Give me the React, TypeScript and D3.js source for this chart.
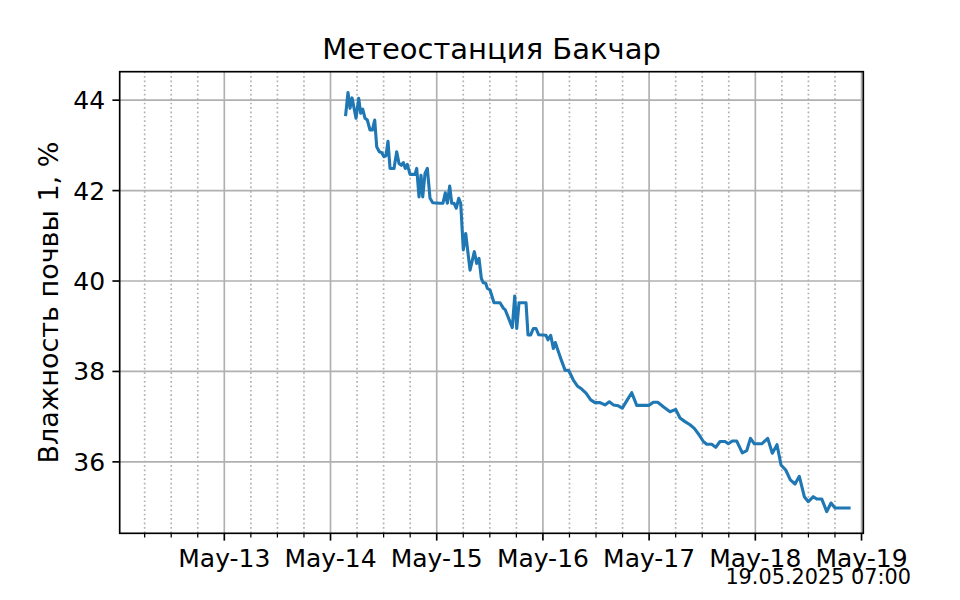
import React from "react";
import * as d3 from "d3";

// Hours since 2025-05-14 00:00 (UTC) and soil moisture values
const hours: number[] = [
  3.43, 3.95, 4.41, 4.86, 5.31, 5.76, 6.37, 6.82, 7.28, 7.8, 8.32, 8.93, 9.45, 9.99,
  10.44, 11.03, 11.57, 12.09, 12.54, 12.99, 13.45, 14.35, 14.96, 15.48, 16.0, 16.45,
  16.9, 17.36, 17.97, 19.1, 19.48, 20.0, 20.45, 20.84, 21.36, 21.88, 22.49, 23.1,
  24.75, 25.4, 25.94, 26.4, 26.94, 27.39, 27.91, 28.43, 28.97, 29.42, 30.01, 30.55,
  31.53, 32.5, 33.04, 33.56, 34.08, 34.53, 35.07, 35.44, 36.05, 36.95, 38.31, 39.05,
  39.5, 41.08, 41.63, 42.08, 42.6, 44.18, 44.63, 45.24, 45.83, 46.44, 47.05, 48.7,
  49.15, 49.76, 50.35, 50.8, 51.25, 52.16, 53.0, 53.83, 54.87, 55.77, 56.77, 57.74,
  58.8, 59.77, 60.9, 62.03, 63.0, 63.91, 65.04, 65.94, 67.07, 68.07, 69.2, 71.98,
  72.95, 73.94, 75.21, 76.72, 78.01, 78.98, 80.11, 81.24, 82.21, 83.28, 84.25, 85.02,
  86.15, 87.05, 88.02, 89.15, 89.9, 90.8, 91.8, 93.06, 94.06, 94.9, 95.78, 97.45,
  98.8, 99.84, 100.9, 101.81, 102.87, 103.91, 104.97, 105.94, 107.07, 107.98, 109.11,
  109.88, 111.0, 112.14, 113.11, 114.01, 117.18,
];
const moisture: number[] = [
  43.68, 44.17, 43.82, 44.05, 43.83, 43.6, 44.04, 43.71, 43.8, 43.6, 43.56, 43.34, 43.34, 43.56,
  42.97, 42.86, 42.84, 42.75, 42.77, 43.09, 42.49, 42.49, 42.86, 42.6, 42.56, 42.62,
  42.49, 42.58, 42.36, 42.36, 42.49, 41.86, 42.34, 41.86, 42.38, 42.49, 41.83, 41.73,
  41.72, 41.72, 41.95, 41.72, 42.1, 41.72, 41.72, 41.61, 41.83, 41.72, 40.69, 41.05,
  40.24, 40.65, 40.39, 40.5, 40.06, 39.96, 39.95, 39.84, 39.8, 39.52, 39.52, 39.4,
  39.36, 38.97, 39.67, 38.95, 39.52, 39.52, 38.81, 38.81, 38.95, 38.95, 38.81, 38.8,
  38.7, 38.8, 38.51, 38.64, 38.51, 38.25, 38.03, 38.02, 37.81, 37.68, 37.61, 37.52,
  37.37, 37.31, 37.31, 37.26, 37.33, 37.26, 37.24, 37.19, 37.37, 37.53, 37.25, 37.25,
  37.32, 37.32, 37.22, 37.11, 37.16, 36.97, 36.89, 36.82, 36.74, 36.6, 36.45, 36.39,
  36.39, 36.32, 36.45, 36.45, 36.4, 36.46, 36.46, 36.2, 36.25, 36.52, 36.4, 36.4,
  36.52, 36.19, 36.38, 35.93, 35.82, 35.6, 35.51, 35.68, 35.23, 35.12, 35.23,
  35.18, 35.18, 34.9, 35.09, 34.98, 34.98,
];
const yTickValues: number[] = [36, 38, 40, 42, 44];
const titleText = "Метеостанция Бакчар";
const yLabelText = "Влажность почвы 1, %";
const stampText = "19.05.2025 07:00";

const W = 960;
const H = 600;
const left = 119.7;
const right = 863.3;
const top = 71.7;
const bottom = 533.3;

const base = Date.UTC(2025, 4, 14, 0, 0);
const HOUR = 3600 * 1000;
const xDomain: [Date, Date] = [new Date(base - 47.64 * HOUR), new Date(base + 120.4 * HOUR)];

export default function App() {
  const x = d3.scaleUtc().domain(xDomain).range([left, right]);
  const y = d3.scaleLinear().domain([34.42, 44.63]).range([bottom, top]);

  const data = hours.map((h, i) => ({ t: new Date(base + h * HOUR), v: moisture[i] }));
  const line = d3
    .line<{ t: Date; v: number }>()
    .x((d) => x(d.t))
    .y((d) => y(d.v));

  const majorTicks = d3.utcDay.range(xDomain[0], xDomain[1]).filter((d) => d >= xDomain[0]);
  const minorTicks = d3.utcHour
    .every(6)!
    .range(xDomain[0], xDomain[1])
    .filter((d) => d.getUTCHours() !== 0);
  const fmt = d3.utcFormat("%b-%d");

  const font = "DejaVu Sans, sans-serif";
  const grid = "#b0b0b0";

  return (
    <svg
      width={W}
      height={H}
      style={{ position: "absolute", left: 0, top: 0, background: "#fff" }}
      fontFamily={font}
    >
      <rect x={0} y={0} width={W} height={H} fill="#fff" />
      {/* minor grid */}
      {minorTicks.map((d, i) => (
        <line
          key={"mg" + i}
          x1={x(d)}
          x2={x(d)}
          y1={top}
          y2={bottom}
          stroke={grid}
          strokeWidth={1.67}
          strokeDasharray="1.67,2.75"
        />
      ))}
      {/* major grid */}
      {majorTicks.map((d, i) => (
        <line key={"Mg" + i} x1={x(d)} x2={x(d)} y1={top} y2={bottom} stroke={grid} strokeWidth={1.67} />
      ))}
      {yTickValues.map((v, i) => (
        <line key={"yg" + i} x1={left} x2={right} y1={y(v)} y2={y(v)} stroke={grid} strokeWidth={1.67} />
      ))}
      {/* data line */}
      <path
        d={line(data) || ""}
        fill="none"
        stroke="#1f77b4"
        strokeWidth={3.1}
        strokeLinejoin="round"
        strokeLinecap="square"
      />
      {/* spines */}
      <rect x={left} y={top} width={right - left} height={bottom - top} fill="none" stroke="#000" strokeWidth={1.67} />
      {/* x ticks */}
      {majorTicks.map((d, i) => (
        <g key={"xt" + i}>
          <line x1={x(d)} x2={x(d)} y1={bottom} y2={bottom + 7.3} stroke="#000" strokeWidth={1.67} />
          <text x={x(d)} y={bottom + 34} textAnchor="middle" fontSize={25} fill="#000">
            {fmt(d)}
          </text>
        </g>
      ))}
      {minorTicks.map((d, i) => (
        <line key={"xm" + i} x1={x(d)} x2={x(d)} y1={bottom} y2={bottom + 4.2} stroke="#000" strokeWidth={1.25} />
      ))}
      {/* y ticks */}
      {yTickValues.map((v, i) => (
        <g key={"yt" + i}>
          <line x1={left - 7.3} x2={left} y1={y(v)} y2={y(v)} stroke="#000" strokeWidth={1.67} />
          <text x={left - 14.6} y={y(v)} dy="0.36em" textAnchor="end" fontSize={25} fill="#000">
            {v}
          </text>
        </g>
      ))}
      {/* title */}
      <text x={(left + right) / 2} y={59} textAnchor="middle" fontSize={29} fill="#000">
        {titleText}
      </text>
      {/* y label */}
      <text
        transform={`translate(58, ${(top + bottom) / 2}) rotate(-90)`}
        textAnchor="middle"
        fontSize={27}
        fill="#000"
      >
        {yLabelText}
      </text>
      {/* timestamp */}
      <text x={911} y={584} textAnchor="end" fontSize={20.8} fill="#000">
        {stampText}
      </text>
    </svg>
  );
}
